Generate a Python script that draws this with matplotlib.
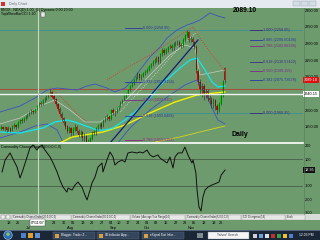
import numpy as np
import matplotlib.pyplot as plt
import matplotlib.transforms as mtrans
from matplotlib.lines import Line2D
from matplotlib.patches import Rectangle, Circle

plt.rcParams['font.family'] = ['Liberation Sans', 'DejaVu Sans']

GREEN = '#6e9b6e'

# trading-day index, 0 = Mon 18 Jun 2007
days = np.arange(-4, 115)
opens = [1944, 1950, 1942, 1948, 1940, 1946, 1940, 1949, 1956, 1950,
         1961, 1971, 1966, 1974, 1979, 1987, 1990, 1998, 1994, 2003,
         2012, 2022, 2018, 2029, 2034, 2040, 2046, 2055, 2041, 2032,
         2018, 2003, 1988, 1976, 1963, 1952, 1937, 1946, 1930, 1941,
         1950, 1936, 1925, 1934, 1915, 1921, 1905, 1898, 1913, 1935,
         1930, 1946, 1951, 1958, 1951, 1970, 1976, 1983, 1973, 2000,
         1990, 1994, 2004, 2012, 2022, 2030, 2040, 2048, 2060, 2072,
         2080, 2090, 2098, 2108, 2096, 2102, 2110, 2114, 2120, 2132,
         2138, 2144, 2150, 2158, 2146, 2168, 2180, 2172, 2180, 2188,
         2192, 2185, 2198, 2200, 2205, 2196, 2192, 2210, 2222, 2234,
         2210, 2214, 2204, 2190, 2118, 2084, 2058, 2072, 2045, 2056,
         2036, 2030, 2018, 2030, 2012, 2000, 2018, 2045, 2126]
closes = [1950, 1944, 1948, 1940, 1946, 1938, 1950, 1955, 1948, 1962,
          1970, 1966, 1975, 1980, 1986, 1991, 1997, 1993, 2003, 2012,
          2021, 2018, 2030, 2034, 2040, 2046, 2055, 2040, 2032, 2018,
          2002, 1988, 1975, 1962, 1950, 1938, 1945, 1930, 1942, 1950,
          1936, 1926, 1935, 1915, 1922, 1905, 1898, 1912, 1934, 1930,
          1946, 1952, 1958, 1950, 1970, 1976, 1982, 1972, 2000, 1990,
          1994, 2004, 2012, 2022, 2030, 2040, 2048, 2060, 2072, 2080,
          2090, 2098, 2108, 2096, 2102, 2110, 2114, 2120, 2132, 2138,
          2144, 2150, 2156, 2145, 2168, 2180, 2172, 2180, 2188, 2192,
          2185, 2198, 2200, 2204, 2196, 2192, 2210, 2222, 2234, 2210,
          2214, 2204, 2190, 2120, 2084, 2060, 2072, 2045, 2056, 2036,
          2030, 2018, 2030, 2012, 2000, 2018, 2045, 2084, 2089]
highs = [1956, 1953, 1952, 1950, 1951, 1948, 1954, 1960, 1958, 1966,
         1974, 1975, 1979, 1985, 1990, 1996, 2002, 2003, 2007, 2016,
         2025, 2027, 2034, 2039, 2045, 2052, 2062, 2058, 2046, 2036,
         2022, 2008, 1993, 1980, 1968, 1956, 1952, 1950, 1948, 1958,
         1954, 1942, 1940, 1938, 1930, 1926, 1912, 1918, 1938, 1941,
         1950, 1957, 1962, 1963, 1974, 1981, 1987, 1986, 2004, 2006,
         1999, 2008, 2016, 2026, 2034, 2044, 2052, 2064, 2076, 2085,
         2094, 2102, 2113, 2111, 2107, 2114, 2119, 2125, 2136, 2142,
         2149, 2155, 2162, 2163, 2172, 2185, 2186, 2186, 2193, 2198,
         2197, 2203, 2206, 2210, 2209, 2202, 2215, 2228, 2240, 2238,
         2222, 2220, 2208, 2194, 2124, 2092, 2082, 2078, 2064, 2062,
         2046, 2040, 2036, 2034, 2018, 2024, 2050, 2090, 2130]
lows = [1940, 1940, 1938, 1934, 1936, 1933, 1937, 1945, 1942, 1947,
        1958, 1961, 1963, 1970, 1975, 1982, 1987, 1988, 1990, 2000,
        2008, 2012, 2015, 2025, 2030, 2036, 2042, 2036, 2027, 2012,
        1996, 1982, 1968, 1955, 1942, 1930, 1930, 1922, 1924, 1936,
        1930, 1918, 1918, 1908, 1906, 1896, 1880, 1888, 1910, 1924,
        1926, 1941, 1946, 1944, 1948, 1965, 1971, 1966, 1970, 1985,
        1983, 1990, 2000, 2008, 2018, 2026, 2036, 2044, 2056, 2068,
        2076, 2086, 2094, 2090, 2091, 2098, 2105, 2110, 2116, 2127,
        2133, 2139, 2145, 2138, 2142, 2163, 2166, 2167, 2175, 2182,
        2178, 2180, 2192, 2195, 2190, 2185, 2188, 2205, 2218, 2204,
        2204, 2198, 2182, 2112, 2076, 2044, 2040, 2030, 2036, 2026,
        2018, 2006, 2005, 2000, 1988, 1994, 2014, 2040, 2080]

# indicator traces (day index, value)
bb_up_x = [-4.5, 6.1, 14.0, 20.3, 25.6, 36.1, 41.4, 45.6, 51.9, 56.1, 61.4, 65.6,
           69.3, 74.6, 79.9, 83.6, 88.8, 94.1, 97.3, 100.9, 106.2, 110.4, 114.1]
bb_up_y = [1994, 2012, 2036, 2060, 2066, 2060, 2072, 2078, 2066, 2054, 2066, 2090,
           2120, 2159, 2189, 2216, 2240, 2255, 2261, 2270, 2291, 2282, 2276]
bb_lo_x = [-4.5, 6.1, 14.0, 20.3, 25.6, 29.8, 56.1, 64.0, 74.6, 85.1, 93.0, 99.3,
           103.6, 107.3, 110.4, 114.1]
bb_lo_y = [1916, 1934, 1952, 1958, 1940, 1890, 1890, 1946, 2000, 2045, 2075, 2090,
           2054, 2006, 1970, 1958]
cyan_x = [-4.5, 6.1, 18.2, 24.5, 30.8, 35.1, 39.3, 46.7, 50.9, 55.1, 61.4, 69.3,
          74.6, 79.9, 85.1, 90.4, 95.7, 99.4, 103.6, 107.3, 110.4, 114.1]
cyan_y = [1934, 1931, 1946, 1964, 1970, 1964, 1955, 1940, 1940, 1946, 1970, 2006,
          2036, 2075, 2099, 2126, 2150, 2156, 2120, 2084, 2069, 2072]
mid_x = [-4.5, 6.1, 16.6, 24.5, 32.4, 40.3, 48.2, 56.1, 64.0, 74.6, 85.1, 93.0,
         98.3, 100.9, 114.1]
mid_y = [1958, 1976, 2012, 2030, 2000, 1964, 1964, 1994, 2042, 2105, 2165, 2195,
         2186, 2105, 2120]
yel_a_x = [27.1, 33.5, 49.8, 61.4, 74.6, 87.8, 99.4, 108.9, 114.1]
yel_a_y = [1901, 1919, 1934, 1955, 1991, 2024, 2045, 2051, 2054]
yel_b_x = [74.6, 90.4, 100.9, 114.1]
yel_b_y = [1901, 1919, 1934, 1952]
sar_x = [21.9, 27.1, 32.4, 37.7, 41.9]
sar_y = [2066, 2042, 2012, 1979, 1964]
red_dot_x = [51.9, 64.0, 74.6, 85.1, 93.0, 97.3, 100.9, 106.2, 111.5, 114.1]
red_dot_y = [2090, 2132, 2165, 2204, 2234, 2249, 2216, 2174, 2135, 2114]
gray_dot_x = [58.8, 74.6, 85.1, 93.0, 99.4]
gray_dot_y = [1994, 2090, 2156, 2204, 2234]
trend_x = [53.5, 99.9]
trend_y = [1901, 2210]

price_ticks = [2300, 2250, 2200, 2150, 2100, 2000, 1950]
last_price = 2089.10
cross_price = 2047
cross_label = '2040.15'
red_level = 2063
cross_day = 15.5

fib_r_lvls = ['1.000', '0.886', '0.786', '0.618', '0.500', '0.382', '0.000']
fib_r_vals = ['2258.65', '2206.60194', '2182.88294', '2130.53422', '2109.155',
              '2075.73578', '1960.35']
fib_r_pos = [2240, 2210, 2192, 2144, 2117, 2090, 1991]
fib_r_col = ['#35287a', '#2a36a0', '#7a2a86', '#3a2c84', '#7a2a86', '#2a36a0', '#35287a']
fib_l_lvls = ['0.000', '0.382', '0.500', '0.618', '0.786']
fib_l_vals = ['2258.95', '2052.8154', '2022.935', '1993.6468', '1959.5152']
fib_l_pos = [2246, 2084, 2030, 1982, 1910]
fib_l_col = ['#2a36a0', '#2a36a0', '#7a2a86', '#2a36a0', '#9a208a']

cci_x = [-3.4, -1.8, 0.8, 4.5, 6.1, 7.6, 9.8, 11.3, 12.9, 15.0, 16.1, 17.7, 19.2,
         21.9, 23.5, 25.6, 27.1, 28.7, 30.8, 31.4, 33.5, 35.1, 36.6, 38.7, 40.3,
         41.4, 43.0, 44.0, 45.6, 47.2, 49.3, 49.8, 51.9, 53.5, 55.1, 56.1, 57.7,
         59.8, 61.4, 63.0, 65.1, 67.7, 69.3, 70.9, 73.0, 74.6, 76.2, 78.8, 79.9,
         81.4, 83.6, 85.1, 86.7, 87.8, 89.4, 91.5, 93.0, 94.6, 96.7, 97.3, 98.8,
         99.4, 100.4, 101.5, 102.5, 103.6, 105.2, 107.3, 109.9, 111.0, 112.1, 114.2]
cci_y = [4, 93, 146, 41, -41, 19, 116, 183, 205, 168, 190, 205, 168, 116, 71, 4,
         -56, -108, -146, -116, -131, -93, -71, -108, -168, -205, -131, -78, -34,
         41, 71, 4, 93, 153, 116, 56, 78, 93, 78, 146, 153, 146, 153, 146, 168,
         131, 116, 131, 108, 93, 71, 116, 34, 116, 146, 146, 190, 131, 71, 93, -4,
         -131, -257, -287, -183, -131, -108, -93, -78, -71, -19, 19]
cci_ticks = [200, 100, -100, -200, -300]
cci_last = '18.95'

# 02, 09 and 16 Jul sit under the cursor date box and are not visible
date_days = [0, 5, 24, 29, 34, 39, 44, 49, 54, 58, 63, 68, 73, 78, 83,
             88, 93, 98, 103, 108, 112]
date_labels = ['18', '25', '23', '30', '06', '13', '20', '27', '04',
               '10', '17', '24', '01', '08', '15', '22', '29', '05', '12', '19', '26']
month_days = [10.5, 32.5, 55, 73, 96.5]
month_labels = ['Jul', 'Aug', 'Sep', 'Oct', 'Nov']

tabs = ['Commodity Channel Index(20,0,0,C,0)', 'Commodity Channel Index(50,0,0,C,0)',
        'Volume | Average True Range(14)', 'Commodity Channel Index(6,0,0,C,0)',
        'CCI Divergence(14)', 'Stoch']

W, H = 320, 240
XLIM = (-4.48, 155.25)


def box(x0, y0, x1, y1):
    return [x0 / W, 1 - y1 / H, (x1 - x0) / W, (y1 - y0) / H]


fig = plt.figure(figsize=(3.2, 2.4), dpi=100, facecolor=GREEN)

# ---------------- price panel ----------------
ax = fig.add_axes(box(0, 8, 303, 142), facecolor=GREEN)
ax.set_xlim(*XLIM)
ax.set_ylim(1904, 2306)
for s in ax.spines.values():
    s.set_visible(False)
ax.set_xticks([])
ax.yaxis.tick_right()
ax.set_yticks(price_ticks)
ax.set_yticklabels(['%.2f' % v for v in price_ticks], fontsize=2.8)
ax.tick_params(axis='y', length=0, pad=1.2)

ax.axhline(2240, color='#3d8f95', lw=0.6)
ax.plot([80, 155], [1991, 1991], color='#3d8f95', lw=0.6)
ax.axhline(red_level, color='#b04a3c', lw=0.7)
ax.plot(yel_b_x, yel_b_y, color='#d6d620', lw=0.6)
ax.plot(bb_up_x, bb_up_y, color='#3a52c4', lw=0.6)
ax.plot(bb_lo_x, bb_lo_y, color='#3a52c4', lw=0.6)
ax.plot(mid_x, mid_y, color='#c4ccc4', lw=0.5)
ax.plot(gray_dot_x, gray_dot_y, color='#dcdcdc', lw=0.6, ls=(0, (1, 1.5)))
ax.plot(red_dot_x, red_dot_y, color='#d0402c', lw=0.7, ls=(0, (1, 1.5)))
ax.plot(sar_x, sar_y, color='#d0402c', lw=0.7, ls=(0, (1, 1.5)))
ax.plot(yel_a_x, yel_a_y, color='#f2f000', lw=1.0)
ax.plot(cyan_x, cyan_y, color='#10e8f0', lw=0.9)
ax.plot(trend_x, trend_y, color='#141a7a', lw=0.9)

o, c, h, l = map(np.array, (opens, closes, highs, lows))
up = c >= o
ax.vlines(days, l, h, color='#1e2a1e', lw=0.4)
ax.bar(days[up], (c - o)[up], bottom=o[up], width=0.75, color='#00d400', lw=0)
ax.bar(days[~up], (o - c)[~up], bottom=c[~up], width=0.75, color='#dc0000', lw=0)

ax.axhline(cross_price, color='#f2f2f2', lw=1.0)
ax.axvline(cross_day, color='#c8d6c8', lw=0.8)

for lv, val, pos, col in zip(fib_r_lvls, fib_r_vals, fib_r_pos, fib_r_col):
    ax.plot([127.4, 133.8], [pos, pos], color=col, lw=0.6)
    ax.text(134.3, pos, '%s (%s)' % (lv, val), color=col, fontsize=2.7, va='center')
for lv, val, pos, col in zip(fib_l_lvls, fib_l_vals, fib_l_pos, fib_l_col):
    ax.plot([61.4, 70.4], [pos, pos], color=col, lw=0.6)
    ax.text(70.9, pos, '%s (%s)' % (lv, val), color=col, fontsize=2.7, va='center')

rt = mtrans.blended_transform_factory(ax.transAxes, ax.transData)
ax.text(1.004, last_price, '%.2f' % last_price, transform=rt, fontsize=2.8,
        color='white', va='center', clip_on=False,
        bbox=dict(boxstyle='square,pad=0.25', fc='#e01010', ec='none'))
ax.text(1.004, cross_price, cross_label, transform=rt, fontsize=2.8,
        color='black', va='center', clip_on=False,
        bbox=dict(boxstyle='square,pad=0.25', fc='white', ec='none'))

fig.text(245 / W, 1 - 10.5 / H, '%.2f' % last_price, fontsize=4.8,
         fontweight='bold', ha='center', va='center')
fig.text(240 / W, 1 - 134 / H, 'Daily', fontsize=5, fontweight='bold',
         ha='center', va='center')
fig.text(1 / W, 1 - 10 / H, '$NDX . NDX(D) 1.00_(0) Dynamic 0.00 20.00',
         fontsize=2.5, va='center')
fig.text(1 / W, 1 - 14.5 / H, 'TopWhenBarCCI 1.20', fontsize=2.5, va='center')
fig.add_artist(Rectangle((40.5 / W, 1 - 16.5 / H), 4 / W, 4 / H, fc='#e8e8e8',
                         ec='#505050', lw=0.3))
fig.add_artist(Line2D([0, 303 / W], [1 - 143 / H] * 2, color='white', lw=1.2))
fig.add_artist(Line2D([303.5 / W] * 2, [1 - 214 / H, 1 - 8 / H], color='#587858', lw=0.4))

# ---------------- CCI panel ----------------
ax2 = fig.add_axes(box(0, 144, 303, 214), facecolor=GREEN)
ax2.set_xlim(*XLIM)
ax2.set_ylim(-309.7, 212.7)
for s in ax2.spines.values():
    s.set_visible(False)
ax2.set_xticks([])
ax2.yaxis.tick_right()
ax2.set_yticks(cci_ticks)
ax2.set_yticklabels([str(v) for v in cci_ticks], fontsize=2.8)
ax2.tick_params(axis='y', length=0, pad=1.2)
ax2.axhline(100, color='#4a5e4a', lw=0.6)
ax2.axhline(-100, color='#4a5e4a', lw=0.6)
ax2.axvline(cross_day, color='#c8d6c8', lw=0.8)
ax2.plot(cci_x, cci_y, color='#101010', lw=0.7)
ax2.text(0.004, 0.955, 'Commodity Channel Index(20,0,0,C,0)', transform=ax2.transAxes,
         fontsize=2.5, va='center')
rt2 = mtrans.blended_transform_factory(ax2.transAxes, ax2.transData)
ax2.text(1.004, float(cci_last), cci_last, transform=rt2, fontsize=2.8, color='white',
         va='center', clip_on=False,
         bbox=dict(boxstyle='square,pad=0.25', fc='#101010', ec='none'))

# ---------------- legend strip ----------------
ax3 = fig.add_axes(box(0, 214, 320, 220))
ax3.set_xlim(0, 320)
ax3.set_ylim(6, 0)
ax3.axis('off')
ax3.add_patch(Rectangle((0, 0), 320, 6, fc='#d8dcd8', ec='none'))
for tx0, tx1, t in zip((12, 72, 131, 186, 242, 286), (72, 131, 186, 242, 286, 306), tabs):
    ax3.add_patch(Rectangle((tx0, 0.5), tx1 - tx0 - 1, 5, fc='#e6e8e6', ec='#909490',
                            lw=0.3))
    ax3.text(tx0 + 1, 3, t, fontsize=1.8, va='center', color='#202020', clip_on=True)
ax3.add_patch(Rectangle((1, 1), 4, 4, fc='#f0f0f0', ec='#707070', lw=0.3))
ax3.add_patch(Rectangle((6, 1), 4, 4, fc='#f0f0f0', ec='#707070', lw=0.3))

# ---------------- date axis ----------------
ax4 = fig.add_axes(box(0, 220, 303, 230))
ax4.set_xlim(*XLIM)
ax4.set_ylim(0, 1)
ax4.axis('off')
for d, lab in zip(date_days, date_labels):
    ax4.text(d, 0.7, lab, fontsize=2.8, ha='center', va='center')
for d, lab in zip(month_days, month_labels):
    ax4.text(d, 0.2, lab, fontsize=2.8, ha='center', va='center')
fig.text(37.5 / W, 1 - 222.5 / H, '07/11/07', fontsize=2.6, ha='center', va='center',
         bbox=dict(boxstyle='square,pad=0.3', fc='white', ec='#404040', lw=0.3))

# ---------------- title bar ----------------
ax5 = fig.add_axes(box(0, 0, 320, 8))
ax5.set_xlim(0, 320)
ax5.set_ylim(8, 0)
ax5.axis('off')
ax5.add_patch(Rectangle((0, 0), 320, 8, fc='#e4eaf0', ec='none'))
ax5.add_patch(Rectangle((1, 1.5), 4, 4, fc='#d03030', ec='none'))
ax5.text(9, 4, 'Daily Chart', fontsize=2.6, va='center', color='#6a6a6a')
for bx in (293, 301, 309):
    ax5.add_patch(Rectangle((bx, 1), 7, 5, fc='#d4dce4', ec='#9aa4ae', lw=0.3))

# ---------------- taskbar ----------------
ax6 = fig.add_axes(box(0, 230, 320, 240))
ax6.set_xlim(0, 320)
ax6.set_ylim(10, 0)
ax6.axis('off')
ax6.add_patch(Rectangle((0, 0), 320, 10, fc='#1b2636', ec='none'))
ax6.add_patch(Rectangle((0, 0), 320, 1, fc='#51647c', ec='none'))
ax6.add_patch(Circle((8, 5.2), 4.3, fc='#2e6fb8', ec='#9cc4e8', lw=0.4))
ax6.add_patch(Circle((8, 4.2), 1.8, fc='#88c060', ec='none'))
for qx, qc in zip((21, 28, 35), ('#4a80c8', '#e0a030', '#6090d0')):
    ax6.add_patch(Rectangle((qx, 3), 5, 5, fc=qc, ec='none'))
for bx, lab in zip((53, 97, 142), ('Blogger: Trader Z...', 'IB Indicator App...',
                                   'eSignal Exit Infor...')):
    ax6.add_patch(Rectangle((bx, 1.5), 42, 7.5, fc='#34465c', ec='#58708c', lw=0.3))
    ax6.add_patch(Rectangle((bx + 2, 3.5), 4, 4, fc='#d8a040', ec='none'))
    ax6.text(bx + 8, 5.3, lab, fontsize=2.2, color='white', va='center')
ax6.add_patch(Rectangle((197, 3), 6, 5, fc='#808890', ec='none'))
ax6.add_patch(Rectangle((208, 2), 41, 6.5, fc='#f4f4f4', ec='#8090a0', lw=0.3))
ax6.text(228, 5.3, 'Yahoo! Search', fontsize=2.3, color='#404040', ha='center',
         va='center')
for tx, tcol in zip((253, 259, 265, 271, 277, 283, 289),
                    ('#d0d0d0', '#70a0e0', '#e0e0e0', '#c03030', '#40a040',
                     '#f0c030', '#5080d0')):
    ax6.add_patch(Rectangle((tx, 3.5), 4, 4, fc=tcol, ec='none'))
ax6.text(306, 5.3, '12:03 PM', fontsize=2.4, color='white', ha='center', va='center')

fig.savefig('out.png', dpi=100, facecolor=GREEN)
